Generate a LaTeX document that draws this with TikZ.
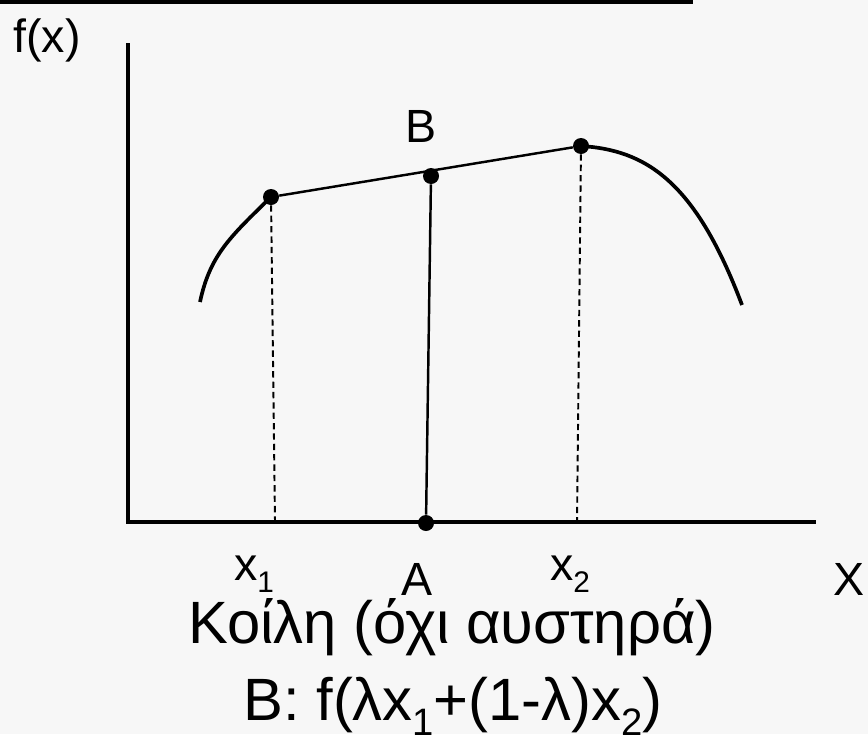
\documentclass[tikz,border=0pt]{standalone}
\usepackage{fontspec}
\setmainfont{Liberation Sans}
\usepackage{tikz}
\usetikzlibrary{positioning, calc}
\definecolor{bgpaper}{RGB}{247,247,247}
\definecolor{ink}{RGB}{0,0,0}
\newcommand{\lowsub}[1]{\raisebox{-0.26em}{\scalebox{0.64}{#1}}}
\tikzset{
  axis/.style={line width=2.3pt, color=ink},
  curve/.style={line width=2.1pt, color=ink},
  chord/.style={line width=1.4pt, color=ink},
  guide/.style={line width=1.1pt, color=ink, dash pattern=on 3.6pt off 2.3pt},
  dot/.style={circle, fill=ink, inner sep=0pt, minimum size=0.32cm},
  lbl/.style={font=\fontsize{26.5}{30}\selectfont, inner sep=0pt, anchor=base},
  caption/.style={font=\fontsize{34}{40}\selectfont, inner sep=0pt, anchor=base}
}

\begin{document}
\begin{tikzpicture}[x=0.02cm, y=-0.02cm]
  % Background and top bar
  \fill[bgpaper] (0,0) rectangle (868,734);
  \useasboundingbox (0,0) rectangle (868,734);
  \fill[ink] (0,0) rectangle (693,4);

  % Axes
  \coordinate (ytop) at (128,43);
  \coordinate (origin) at (128,522);
  \coordinate (xend) at (816,522);
  \draw[axis] (ytop) -- (origin) -- (xend);

  % Points
  \node[dot] (px1) at (271,197) {};
  \node[dot] (px2) at (581,146) {};
  \node[dot] (pB) at (431,176) {};
  \node[dot] (pA) at (426,523) {};
  \coordinate (lend) at (200,302);
  \coordinate (rend) at (742,305);
  \coordinate (x1foot) at (275,522);
  \coordinate (x2foot) at (577,522);

  % Function
  \draw[curve] (lend) .. controls (210,255) and (230,237) .. (px1.center);
  \draw[curve] (px2.center) .. controls (645,150) and (695,180) .. (rend);
  \draw[chord] (px1) -- (px2);
  \draw[chord] (pB) -- (pA);
  \draw[guide] (px1) -- (x1foot);
  \draw[guide] (px2) -- (x2foot);

  % Labels
  \node[lbl] (fx) at (47,52) {f(x)};
  \node[lbl] (lblB) at (421,142) {B};
  \node[lbl] (lblx1) at (254,580) {x\lowsub{1}};
  \node[lbl] (lblA) at (417,595) {A};
  \node[lbl] (lblx2) at (570,580) {x\lowsub{2}};
  \node[lbl] (lblX) at (849,595) {X};
  \node[caption] (concave) at (452,643) {Κοίλη (όχι αυστηρά)};
  \node[caption] (formula) at (453,720) {B: f(λx\lowsub{1}+(1-λ)x\lowsub{2})};
\end{tikzpicture}
\end{document}
